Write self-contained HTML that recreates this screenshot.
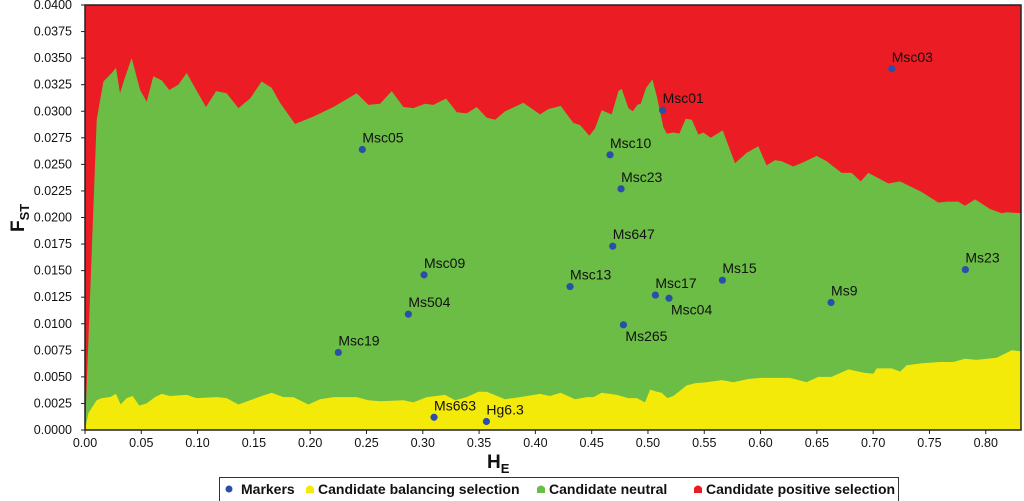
<!DOCTYPE html>
<html><head><meta charset="utf-8"><style>
html,body{margin:0;padding:0;background:#fff;width:1024px;height:501px;overflow:hidden}
svg{display:block;font-family:"Liberation Sans",Arial,sans-serif}
</style></head><body>
<svg id="chart" width="1024" height="501"></svg>
<script>
const upperHE=[0,.0104,.0163,.0237,.0275,.0311,.0355,.0415,.0489,.0548,.0607,.0681,.0749,.0829,.0903,.0977,.1075,.1164,.1258,.1362,.1466,.1569,.1658,.1732,.1865,.2028,.2206,.2413,.2517,.2620,.2724,.2828,.2916,.3020,.3094,.3207,.3302,.3390,.3479,.3568,.3642,.3731,.3893,.4041,.4115,.4225,.4337,.4397,.4479,.4530,.4589,.4678,.4737,.4767,.4826,.4864,.4905,.4935,.4983,.5039,.5078,.5137,.5166,.5226,.5279,.5335,.5389,.5448,.5492,.5557,.5664,.5773,.5877,.5980,.6054,.6128,.6188,.6291,.6380,.6498,.6587,.6720,.6809,.6889,.6957,.7135,.7238,.7431,.7579,.7653,.7756,.7816,.7905,.8038,.8142,.8186,.8313];
const upperFST=[0,.0292,.0328,.0336,.0341,.0317,.0332,.0350,.0320,.0309,.0333,.0329,.0320,.0325,.0336,.0322,.0304,.0319,.0317,.0303,.0312,.0328,.0322,.0308,.0288,.0295,.0304,.0317,.0306,.0307,.0319,.0304,.0303,.0307,.0306,.0312,.0299,.0298,.0304,.0294,.0292,.0300,.0308,.0297,.0302,.0305,.0289,.0287,.0277,.0284,.0301,.0297,.0319,.0321,.0303,.0300,.0306,.0307,.0322,.0330,.0314,.0285,.0279,.0280,.0279,.0293,.0292,.0278,.0280,.0275,.0282,.0251,.0261,.0267,.0249,.0254,.0253,.0248,.0252,.0258,.0253,.0242,.0242,.0234,.0242,.0232,.0234,.0224,.0214,.0215,.0215,.0211,.0217,.0208,.0204,.0205,.0204];
const lowerHE=[0,.0030,.0104,.0148,.0222,.0275,.0316,.0370,.0423,.0482,.0548,.0622,.0681,.0755,.0903,.0991,.1169,.1258,.1362,.1466,.1569,.1658,.1762,.1851,.1984,.2087,.2206,.2413,.2517,.2620,.2828,.2916,.3035,.3198,.3287,.3390,.3494,.3568,.3731,.3864,.4041,.4130,.4225,.4352,.4456,.4515,.4589,.4723,.4826,.4900,.4974,.5019,.5078,.5122,.5172,.5226,.5344,.5418,.5522,.5655,.5758,.5892,.6010,.6128,.6261,.6409,.6513,.6631,.6780,.6913,.7002,.7032,.7165,.7239,.7298,.7446,.7594,.7712,.7816,.7919,.8097,.8231,.8313];
const lowerFST=[0,.0016,.0028,.0030,.0031,.0034,.0024,.0030,.0032,.0023,.0025,.0031,.0034,.0032,.0033,.0030,.0031,.0030,.0024,.0028,.0032,.0035,.0031,.0031,.0024,.0029,.0031,.0031,.0028,.0027,.0028,.0026,.0031,.0033,.0028,.0031,.0036,.0036,.0029,.0031,.0034,.0032,.0035,.0029,.0031,.0031,.0035,.0033,.0030,.0030,.0026,.0038,.0036,.0035,.0030,.0032,.0042,.0044,.0045,.0047,.0045,.0048,.0049,.0049,.0049,.0045,.0050,.0050,.0057,.0054,.0053,.0058,.0058,.0055,.0061,.0063,.0064,.0064,.0067,.0066,.0068,.0075,.0074];
const markerNames=["Msc03","Msc01","Msc05","Msc10","Msc23","Ms647","Msc09","Msc13","Ms15","Ms23","Msc17","Msc04","Ms9","Ms504","Ms265","Msc19","Ms663","Hg6.3"];
const markerHE=[.7165,.5130,.2463,.4663,.4761,.4687,.3011,.4308,.5661,.7819,.5066,.5187,.6626,.2872,.4782,.2250,.3100,.3565];
const markerFST=[.0340,.0301,.0264,.0259,.0227,.0173,.0146,.0135,.0141,.0151,.0127,.0124,.0120,.0109,.0099,.0073,.0012,.0008];
const xTicks=[0,.05,.10,.15,.20,.25,.30,.35,.40,.45,.50,.55,.60,.65,.70,.75,.80];
const yTicks=[0,.0025,.005,.0075,.01,.0125,.015,.0175,.02,.0225,.025,.0275,.03,.0325,.035,.0375,.04];

const L=85,R=1021,T=5,B=430,XMAX=.8313,YMAX=.04;
const sx=v=>L+v/XMAX*(R-L), sy=v=>B-v/YMAX*(B-T);
const svg=document.getElementById('chart'),NS='http://www.w3.org/2000/svg';
function mk(tag,attrs,parent){const e=document.createElementNS(NS,tag);for(const k in attrs)e.setAttribute(k,attrs[k]);(parent||svg).appendChild(e);return e;}

const red=mk('rect',{x:L,y:T,width:R-L,height:B-T,fill:'#ec1c24'});


let d='M'+L+','+B;
upperHE.forEach((h,i)=>{d+=' L'+sx(h).toFixed(1)+','+sy(upperFST[i]).toFixed(1);});
d+=' L'+R+','+B+' Z';
const g=mk('path',{d:d,fill:'#6cbd45'});


d='M'+L+','+B;
lowerHE.forEach((h,i)=>{d+=' L'+sx(h).toFixed(1)+','+sy(lowerFST[i]).toFixed(1);});
d+=' L'+R+','+B+' Z';
const y=mk('path',{d:d,fill:'#f4ea0a'});


const fr=mk('rect',{x:L,y:T,width:R-L,height:B-T,fill:'none',stroke:'#222','stroke-width':1.5});



markerNames.forEach((n,i)=>{
  const cx=sx(markerHE[i]),cy=sy(markerFST[i]);
  const c=mk('circle',{cx:cx,cy:cy,r:3.6,fill:'#2a4fa8'});
  
  
  const below=(n==='Msc04'||n==='Ms265');
  const t=mk('text',{x:cx+(below?2:0),y:below?cy+16:cy-7,'font-size':14,fill:'#111'});
  t.textContent=n;
  
  
});

xTicks.forEach(v=>{
  const x=sx(v);
  const tk=mk('line',{x1:x,x2:x,y1:B,y2:B+4,stroke:'#222','stroke-width':1});
  
  
  const t=mk('text',{x:x,y:B+17,'font-size':12.5,'text-anchor':'middle',fill:'#111'});
  t.textContent=v.toFixed(2);
  
  
});
yTicks.forEach(v=>{
  const yy=sy(v);
  const tk=mk('line',{x1:L-4,x2:L,y1:yy,y2:yy,stroke:'#222','stroke-width':1});
  
  
  const t=mk('text',{x:L-13,y:yy+4,'font-size':12.5,'text-anchor':'end',fill:'#111'});
  t.textContent=v.toFixed(4);
  
  
});
</script>
<svg style="position:absolute;left:0;top:0" width="1024" height="501">
<text x="0" y="0" transform="translate(24,232) rotate(-90)" font-size="19" font-weight="bold" fill="#111" font-family="Liberation Sans, sans-serif">F<tspan font-size="13" dy="5">ST</tspan></text>
<text x="487" y="468" font-size="19" font-weight="bold" fill="#111" font-family="Liberation Sans, sans-serif">H<tspan font-size="13" dy="5">E</tspan></text>
<g font-family="Liberation Sans, sans-serif" font-size="14" font-weight="bold" fill="#111">
<rect x="219.5" y="477.5" width="679" height="24" fill="#fff" stroke="#333" stroke-width="1"/>
<circle cx="229" cy="489" r="3.5" fill="#2a4fa8"/>
<text x="241" y="494">Markers</text>
<path d="M306,493 L306,488 Q310,483 314,488 L314,493 Z" fill="#f4ea0a"/>
<text x="318" y="494">Candidate balancing selection</text>
<path d="M537,493 L537,488 Q541,483 545,488 L545,493 Z" fill="#6cbd45"/>
<text x="549" y="494">Candidate neutral</text>
<path d="M694,493 L694,488 Q698,483 702,488 L702,493 Z" fill="#ec1c24"/>
<text x="706" y="494">Candidate positive selection</text>
</g>
</svg>
</body></html>
